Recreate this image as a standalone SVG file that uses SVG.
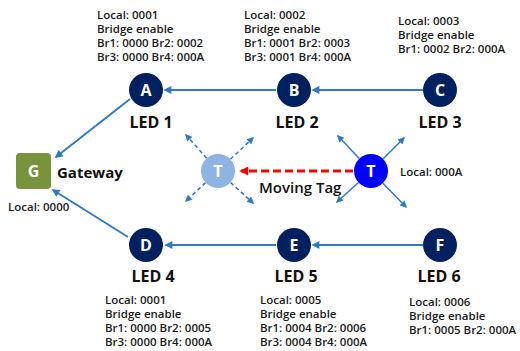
<svg xmlns="http://www.w3.org/2000/svg" width="520" height="351" viewBox="0 0 520 351">
  <defs>
    <style>
      .info { font-family: "Open Sans", "Noto Sans", sans-serif; font-weight: 600; font-size: 11.5px; fill: #1a1a1a; }
      .led { font-family: "Open Sans", "Noto Sans", sans-serif; font-weight: 700; font-size: 16px; fill: #111; text-anchor: middle; }
      .glyph { font-family: "Open Sans", "Noto Sans", sans-serif; font-weight: 700; font-size: 16px; fill: #fff; text-anchor: middle; }
      .label { font-family: "Open Sans", "Noto Sans", sans-serif; font-weight: 700; font-size: 15px; fill: #111; }
      .led-node { fill: #002060; }
      .link { stroke: #2E7BC4; stroke-width: 2; fill: none; marker-end: url(#arrow); }
      .ray { stroke: #2E7BC4; stroke-width: 1.5; fill: none; marker-end: url(#arrow-sm); }
      .ray-dash { stroke-dasharray: 4 3; }
      .move { stroke: #FF0000; stroke-width: 3; stroke-dasharray: 8 4; fill: none; marker-end: url(#arrow-red); }
    </style>
    <marker id="arrow" viewBox="0 0 10 10" refX="8" refY="5" markerUnits="userSpaceOnUse" markerWidth="9" markerHeight="8" orient="auto">
      <path d="M0,0 L10,5 L0,10 z" fill="#2E7BC4"/>
    </marker>
    <marker id="arrow-sm" viewBox="0 0 10 10" refX="8" refY="5" markerUnits="userSpaceOnUse" markerWidth="8" markerHeight="7" orient="auto">
      <path d="M0,0 L10,5 L0,10 z" fill="#2E7BC4"/>
    </marker>
    <marker id="arrow-red" viewBox="0 0 10 10" refX="8" refY="5" markerUnits="userSpaceOnUse" markerWidth="10" markerHeight="9" orient="auto">
      <path d="M0,0 L10,5 L0,10 z" fill="#FF0000"/>
    </marker>
  </defs>

  <!-- connectors -->
  <g id="connectors">
    <line class="link" x1="423" y1="90" x2="313" y2="90"/>
    <line class="link" x1="276" y1="90" x2="165" y2="90"/>
    <line class="link" x1="130" y1="99" x2="56" y2="157"/>
    <line class="link" x1="423" y1="245" x2="313" y2="245"/>
    <line class="link" x1="276" y1="245" x2="166" y2="245"/>
    <line class="link" x1="128" y1="237" x2="53" y2="190"/>
    <!-- tag broadcast rays -->
    <line class="ray ray-dash" x1="206.7" y1="158.3" x2="186" y2="135"/>
    <line class="ray ray-dash" x1="230.4" y1="159.3" x2="253" y2="138"/>
    <line class="ray ray-dash" x1="205.6" y1="182.6" x2="186" y2="201"/>
    <line class="ray ray-dash" x1="230.5" y1="182.5" x2="253" y2="203"/>
    <line class="ray" x1="359.3" y1="158.6" x2="338" y2="136"/>
    <line class="ray" x1="383" y1="159" x2="404" y2="138"/>
    <line class="ray" x1="358.5" y1="182.5" x2="337" y2="202"/>
    <line class="ray" x1="382.9" y1="183.2" x2="406" y2="207"/>
    <!-- tag movement -->
    <line class="move" x1="353" y1="171" x2="241" y2="171"/>
  </g>

  <!-- gateway -->
  <g id="gateway">
    <rect x="16" y="153" width="35" height="36" rx="4" fill="#77933C"/>
    <text class="glyph" x="33.5" y="177">G</text>
    <text class="label" x="57" y="178">Gateway</text>
    <text class="info" x="8" y="211">Local: 0000</text>
  </g>

  <!-- LED nodes -->
  <g id="led1">
    <circle class="led-node" cx="146" cy="90" r="17"/>
    <text class="glyph" x="146" y="96">A</text>
    <text class="led" x="151" y="128">LED 1</text>
    <text class="info" x="97" y="19">Local: 0001</text>
    <text class="info" x="97" y="33">Bridge enable</text>
    <text class="info" x="97" y="47">Br1: 0000 Br2: 0002</text>
    <text class="info" x="97" y="61">Br3: 0000 Br4: 000A</text>
  </g>
  <g id="led2">
    <circle class="led-node" cx="294" cy="90" r="17"/>
    <text class="glyph" x="294" y="96">B</text>
    <text class="led" x="297" y="128">LED 2</text>
    <text class="info" x="244" y="19">Local: 0002</text>
    <text class="info" x="244" y="33">Bridge enable</text>
    <text class="info" x="244" y="47">Br1: 0001 Br2: 0003</text>
    <text class="info" x="244" y="61">Br3: 0001 Br4: 000A</text>
  </g>
  <g id="led3">
    <circle class="led-node" cx="440" cy="90" r="17"/>
    <text class="glyph" x="440" y="96">C</text>
    <text class="led" x="440" y="128">LED 3</text>
    <text class="info" x="398" y="25">Local: 0003</text>
    <text class="info" x="398" y="39">Bridge enable</text>
    <text class="info" x="398" y="53">Br1: 0002 Br2: 000A</text>
  </g>
  <g id="led4">
    <circle class="led-node" cx="146" cy="245" r="17"/>
    <text class="glyph" x="146" y="251">D</text>
    <text class="led" x="153" y="282">LED 4</text>
    <text class="info" x="105" y="304">Local: 0001</text>
    <text class="info" x="105" y="318">Bridge enable</text>
    <text class="info" x="105" y="332">Br1: 0000 Br2: 0005</text>
    <text class="info" x="105" y="346">Br3: 0000 Br4: 000A</text>
  </g>
  <g id="led5">
    <circle class="led-node" cx="294" cy="245" r="17"/>
    <text class="glyph" x="294" y="251">E</text>
    <text class="led" x="296" y="282">LED 5</text>
    <text class="info" x="260" y="304">Local: 0005</text>
    <text class="info" x="260" y="318">Bridge enable</text>
    <text class="info" x="260" y="332">Br1: 0004 Br2: 0006</text>
    <text class="info" x="260" y="346">Br3: 0004 Br4: 000A</text>
  </g>
  <g id="led6">
    <circle class="led-node" cx="440" cy="245" r="17"/>
    <text class="glyph" x="440" y="251">F</text>
    <text class="led" x="439" y="282">LED 6</text>
    <text class="info" x="409" y="306">Local: 0006</text>
    <text class="info" x="409" y="320">Bridge enable</text>
    <text class="info" x="409" y="334">Br1: 0005 Br2: 000A</text>
  </g>

  <!-- tag: previous and current positions -->
  <g id="tag-previous">
    <circle cx="218" cy="171" r="17" fill="#8EB4E3"/>
    <text class="glyph" x="218" y="177">T</text>
  </g>
  <g id="tag-current">
    <circle cx="371" cy="171" r="17" fill="#0000FF"/>
    <text class="glyph" x="371" y="177">T</text>
    <text class="info" x="400" y="176">Local: 000A</text>
  </g>
  <text class="label" x="259" y="193" style="font-weight:600;font-size:15px">Moving Tag</text>
</svg>
